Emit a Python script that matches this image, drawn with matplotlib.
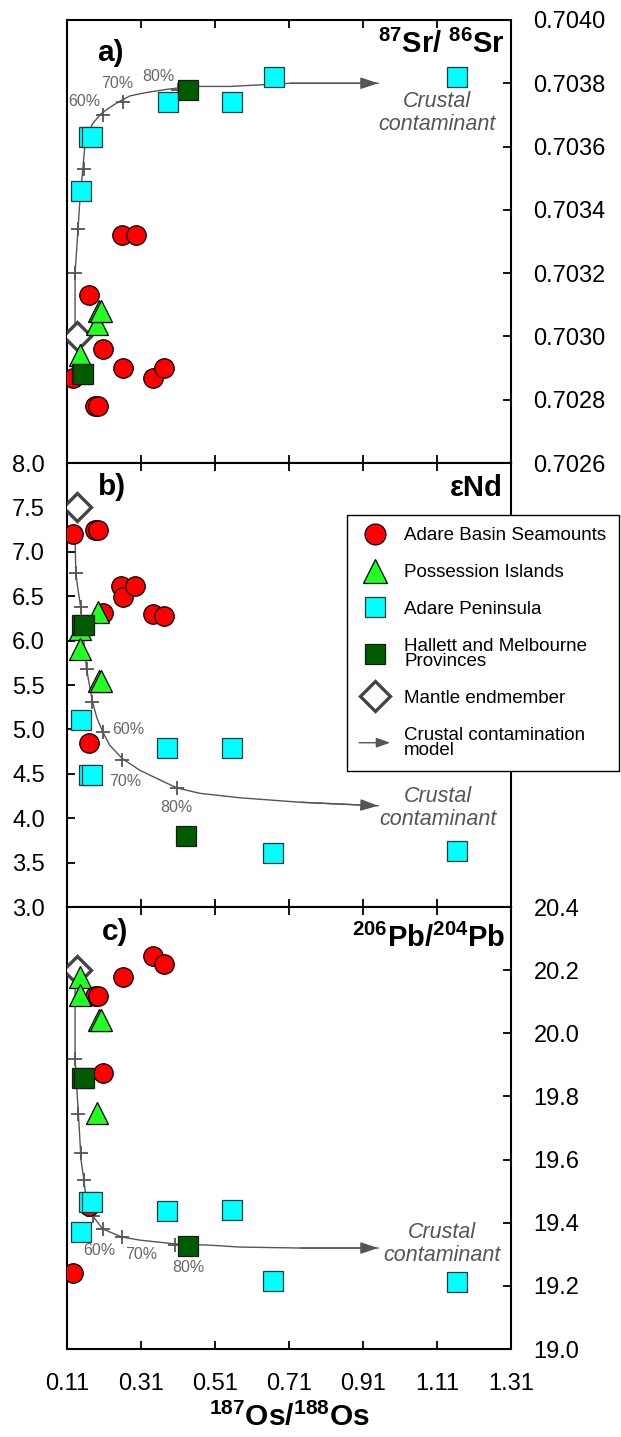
import matplotlib
matplotlib.use("Agg")
import matplotlib.pyplot as plt
import matplotlib.patches as mpatches
from matplotlib.lines import Line2D
from matplotlib.patches import FancyArrowPatch
from matplotlib.legend_handler import HandlerPatch

plt.rcParams["font.family"] = ["Liberation Sans", "DejaVu Sans"]
plt.rcParams["mathtext.fontset"] = "custom"
plt.rcParams["mathtext.rm"] = "Liberation Sans"
plt.rcParams["mathtext.bf"] = "Liberation Sans:bold"
plt.rcParams["mathtext.it"] = "Liberation Sans:italic"

# ---------------- shared x ----------------
os_ticks = [0.11, 0.31, 0.51, 0.71, 0.91, 1.11, 1.31]
mantle_os = 0.137

# ---------------- a) 87Sr/86Sr ----------------
seamount_os_sr = [0.125, 0.169, 0.185, 0.192, 0.207, 0.258, 0.260, 0.295, 0.341, 0.371]
seamount_sr = [0.70287, 0.70313, 0.70278, 0.70278, 0.70296, 0.70332, 0.70290, 0.70332, 0.70287, 0.70290]
possession_os_sr = [0.144, 0.189, 0.196, 0.200]
possession_sr = [0.70294, 0.70304, 0.70308, 0.70308]
peninsula_os_sr = [0.147, 0.169, 0.176, 0.383, 0.556, 0.669, 1.164]
peninsula_sr = [0.70346, 0.70363, 0.70363, 0.70374, 0.70374, 0.70382, 0.70382]
hallett_os_sr = [0.149, 0.153, 0.437]
hallett_sr = [0.70288, 0.70288, 0.70378]
mantle_sr = 0.70300
model_os_sr = [0.131, 0.131, 0.139, 0.144, 0.152, 0.158, 0.177, 0.198, 0.220, 0.247,
               0.279, 0.320, 0.374, 0.442, 0.550, 0.712, 0.950]
model_sr = [0.70302, 0.70320, 0.70334, 0.70343, 0.70353, 0.70361, 0.70367, 0.70370, 0.70372,
            0.70374, 0.70376, 0.70377, 0.70378, 0.70379, 0.70379, 0.70380, 0.70380]
marks_os_sr = [0.131, 0.139, 0.155, 0.206, 0.260, 0.409]
marks_sr = [0.70320, 0.70334, 0.70353, 0.70370, 0.70374, 0.70378]
sr_ticks = [0.7026, 0.7028, 0.7030, 0.7032, 0.7034, 0.7036, 0.7038, 0.7040]

# ---------------- b) eps Nd ----------------
seamount_os_nd = [0.125, 0.169, 0.185, 0.192, 0.207, 0.255, 0.260, 0.292, 0.341, 0.371]
seamount_nd = [7.20, 4.85, 7.25, 7.25, 6.31, 6.61, 6.49, 6.61, 6.30, 6.28]
possession_os_nd = [0.144, 0.144, 0.194, 0.196, 0.200]
possession_nd = [6.13, 5.91, 6.32, 5.54, 5.54]
peninsula_os_nd = [0.147, 0.169, 0.176, 0.379, 0.556, 0.667, 1.164]
peninsula_nd = [5.11, 4.49, 4.49, 4.79, 4.79, 3.61, 3.63]
hallett_os_nd = [0.149, 0.155, 0.431]
hallett_nd = [6.18, 6.18, 3.80]
mantle_nd = 7.5
model_os_nd = [0.131, 0.133, 0.139, 0.146, 0.152, 0.162, 0.178, 0.190, 0.206, 0.225,
               0.259, 0.306, 0.361, 0.407, 0.469, 0.577, 0.739, 0.950]
model_nd = [7.13, 6.76, 6.57, 6.38, 6.12, 5.68, 5.31, 5.13, 4.97, 4.82,
            4.67, 4.54, 4.43, 4.34, 4.28, 4.23, 4.18, 4.14]
marks_os_nd = [0.133, 0.146, 0.162, 0.178, 0.206, 0.259, 0.407]
marks_nd = [6.76, 6.38, 5.68, 5.31, 4.97, 4.66, 4.34]
nd_ticks = [3.0, 3.5, 4.0, 4.5, 5.0, 5.5, 6.0, 6.5, 7.0, 7.5, 8.0]

# ---------------- c) 206Pb/204Pb ----------------
seamount_os_pb = [0.125, 0.169, 0.185, 0.192, 0.207, 0.260, 0.341, 0.371]
seamount_pb = [19.240, 19.453, 20.118, 20.118, 19.875, 20.177, 20.246, 20.220]
possession_os_pb = [0.144, 0.144, 0.189, 0.196, 0.200]
possession_pb = [20.179, 20.120, 19.747, 20.043, 20.043]
peninsula_os_pb = [0.147, 0.169, 0.176, 0.379, 0.556, 0.667, 1.164]
peninsula_pb = [19.372, 19.467, 19.467, 19.437, 19.440, 19.215, 19.213]
hallett_os_pb = [0.149, 0.155, 0.437]
hallett_pb = [19.857, 19.857, 19.326]
mantle_pb = 20.2
model_os_pb = [0.131, 0.131, 0.136, 0.140, 0.144, 0.147, 0.155, 0.161, 0.177, 0.206,
               0.257, 0.306, 0.401, 0.496, 0.577, 0.739, 0.950]
model_pb = [20.153, 19.919, 19.820, 19.744, 19.662, 19.599, 19.535, 19.472, 19.424, 19.380,
            19.355, 19.345, 19.333, 19.329, 19.323, 19.320, 19.320]
marks_os_pb = [0.131, 0.140, 0.146, 0.155, 0.179, 0.206, 0.257, 0.401]
marks_pb = [19.918, 19.744, 19.622, 19.535, 19.421, 19.380, 19.354, 19.329]
pb_ticks = [19.0, 19.2, 19.4, 19.6, 19.8, 20.0, 20.2, 20.4]

pct_labels = ["60%", "70%", "80%"]

# ---------------- styles ----------------
RED, LIME, CYAN, DKGREEN = "#FF0000", "#22FF22", "#00FFFF", "#005C00"
GREY = "#555555"
TICK_FS = 17
TITLE_FS = 21

seamount_style = dict(ls="none", marker="o", ms=14, mfc=RED, mec="black", mew=0.9)
possession_style = dict(ls="none", marker="^", ms=15.5, mfc=LIME, mec="black", mew=0.9)
peninsula_style = dict(ls="none", marker="s", ms=13.8, mfc=CYAN, mec="#2a3a3a", mew=0.9)
hallett_style = dict(ls="none", marker="s", ms=13.8, mfc=DKGREEN, mec="#1a1a1a", mew=0.9)
mantle_style = dict(ls="none", marker="D", ms=14, mfc="white", mec="#444444", mew=2.4)

fig = plt.figure(figsize=(6.21, 14.37), dpi=100)
left, width = 0.1084, 0.715
ax_a = fig.add_axes([left, 0.6778, width, 0.3083])
ax_b = fig.add_axes([left, 0.3688, width, 0.3090])
ax_c = fig.add_axes([left, 0.0612, width, 0.3076])


def draw_panel(ax, groups, mantle_y, model_x, model_y, mark_x, mark_y, pct_offsets,
               crust_xy):
    # mixing model line with arrow at its end
    ax.plot(model_x, model_y, color=GREY, lw=1.0, zorder=2)
    ax.annotate("", xy=(model_x[-1], model_y[-1]), xytext=(model_x[-2], model_y[-2]),
                arrowprops=dict(arrowstyle="-|>,head_length=0.6,head_width=0.2",
                                color=GREY, lw=1.0, mutation_scale=18,
                                shrinkA=0, shrinkB=0), zorder=2)
    ax.plot(mark_x, mark_y, ls="none", marker="+", ms=10, mew=1.3, color=GREY, zorder=2.2)
    for lab, (dx, dy), x, y in zip(pct_labels, pct_offsets, mark_x[-3:], mark_y[-3:]):
        ax.annotate(lab, xy=(x, y), xytext=(dx, dy), textcoords="offset points",
                    ha="center", va="center", fontsize=11.5, color="#666666", zorder=3)
    ax.text(crust_xy[0], crust_xy[1], "Crustal\ncontaminant", ha="center", va="center",
            fontsize=15.5, style="italic", color=GREY, linespacing=1.15, zorder=3)
    # samples
    (sx, sy), (px, py), (ax_, ay), (hx, hy) = groups
    ax.plot(sx, sy, zorder=4, **seamount_style)
    ax.plot([mantle_os], [mantle_y], zorder=4.2, **mantle_style)
    ax.plot(px, py, zorder=4.4, **possession_style)
    ax.plot(ax_, ay, zorder=4.6, **peninsula_style)
    ax.plot(hx, hy, zorder=4.8, **hallett_style)


draw_panel(ax_a,
           [(seamount_os_sr, seamount_sr), (possession_os_sr, possession_sr),
            (peninsula_os_sr, peninsula_sr), (hallett_os_sr, hallett_sr)],
           mantle_sr, model_os_sr, model_sr, marks_os_sr, marks_sr,
           [(-13.5, 9.6), (-4.1, 13.2), (-14.4, 9.4)], (1.109, 0.703706))
draw_panel(ax_b,
           [(seamount_os_nd, seamount_nd), (possession_os_nd, possession_nd),
            (peninsula_os_nd, peninsula_nd), (hallett_os_nd, hallett_nd)],
           mantle_nd, model_os_nd, model_nd, marks_os_nd, marks_nd,
           [(18.0, 1.7), (1.9, -15.6), (-0.4, -13.7)], (1.112, 4.115))
draw_panel(ax_c,
           [(seamount_os_pb, seamount_pb), (possession_os_pb, possession_pb),
            (peninsula_os_pb, peninsula_pb), (hallett_os_pb, hallett_pb)],
           mantle_pb, model_os_pb, model_pb, marks_os_pb, marks_pb,
           [(-2.4, -15.1), (13.9, -12.7), (9.6, -16.1)], (1.122, 19.333))

# ---------------- axes formatting ----------------
for ax in (ax_a, ax_b, ax_c):
    ax.set_xlim(os_ticks[0], os_ticks[-1])
    ax.set_xticks(os_ticks)
    for sp in ax.spines.values():
        sp.set_linewidth(1.5)
    ax.tick_params(axis="x", which="both", direction="in", top=True, bottom=True,
                   length=6, width=1.3, labelbottom=False, labelsize=TICK_FS)

ax_c.tick_params(axis="x", labelbottom=True, pad=17)
ax_c.set_xticklabels([f"{t:.2f}" for t in os_ticks])

ax_a.set_ylim(sr_ticks[0], sr_ticks[-1])
ax_a.set_yticks(sr_ticks)
ax_a.set_yticklabels([f"{t:.4f}" for t in sr_ticks])
ax_a.tick_params(axis="y", direction="in", left=False, right=True, labelleft=False,
                 labelright=True, length=6, width=1.3, labelsize=TICK_FS, pad=16)

ax_b.set_ylim(nd_ticks[0], nd_ticks[-1])
ax_b.set_yticks(nd_ticks)
ax_b.set_yticklabels([f"{t:.1f}" for t in nd_ticks])
ax_b.tick_params(axis="y", direction="in", left=True, right=False, labelleft=True,
                 labelright=False, length=6, width=1.3, labelsize=TICK_FS, pad=16)

ax_c.set_ylim(pb_ticks[0], pb_ticks[-1])
ax_c.set_yticks(pb_ticks)
ax_c.set_yticklabels([f"{t:.1f}" for t in pb_ticks])
ax_c.tick_params(axis="y", direction="in", left=False, right=True, labelleft=False,
                 labelright=True, length=6, width=1.3, labelsize=TICK_FS, pad=16)

ax_c.set_xlabel(r"$\mathbf{^{187}Os/^{188}Os}$", fontsize=21.5, labelpad=6)

# panel letters and isotope titles
ax_a.text(0.067, 0.907, "a)", transform=ax_a.transAxes, fontsize=21.5, fontweight="bold",
          va="baseline", ha="left")
ax_b.text(0.069, 0.928, "b)", transform=ax_b.transAxes, fontsize=21.5, fontweight="bold",
          va="baseline", ha="left")
ax_c.text(0.078, 0.925, "c)", transform=ax_c.transAxes, fontsize=21.5, fontweight="bold",
          va="baseline", ha="left")
ax_a.text(0.986, 0.925, r"$\mathbf{^{87}Sr/\ ^{86}Sr}$", transform=ax_a.transAxes,
          fontsize=TITLE_FS, va="baseline", ha="right")
ax_b.text(0.981, 0.926, "εNd", transform=ax_b.transAxes, fontsize=TITLE_FS,
          fontweight="bold", va="baseline", ha="right")
ax_c.text(0.986, 0.909, r"$\mathbf{^{206}Pb/^{204}Pb}$", transform=ax_c.transAxes,
          fontsize=TITLE_FS, va="baseline", ha="right")


# ---------------- legend ----------------
class ArrowHandler(HandlerPatch):
    def create_artists(self, legend, orig_handle, xdescent, ydescent, width, height,
                       fontsize, trans):
        y = height / 2 - ydescent
        arrow = FancyArrowPatch((-xdescent, y), (width - xdescent, y),
                                arrowstyle="-|>,head_length=0.7,head_width=0.25",
                                mutation_scale=12, color=GREY, lw=1.0,
                                shrinkA=0, shrinkB=0, transform=trans)
        return [arrow]


model_handle = mpatches.Patch(color=GREY)
handles = [
    Line2D([], [], **{**seamount_style, "ms": 15}),
    Line2D([], [], **{**possession_style, "ms": 17}),
    Line2D([], [], **{**peninsula_style, "ms": 15}),
    Line2D([], [], **{**hallett_style, "ms": 15}),
    Line2D([], [], **{**mantle_style, "ms": 15.5}),
    model_handle,
]
labels = ["Adare Basin Seamounts", "Possession Islands", "Adare Peninsula",
          "Hallett and Melbourne\nProvinces", "Mantle endmember",
          "Crustal contamination\nmodel"]
leg = ax_b.legend(handles, labels, loc="upper left",
                  bbox_to_anchor=(347 / 621, 1 - 515 / 1437),
                  bbox_transform=fig.transFigure, borderaxespad=0,
                  fontsize=13.5, frameon=True, fancybox=False, framealpha=1,
                  edgecolor="black", borderpad=0.65, handlelength=1.65,
                  handletextpad=0.75, labelspacing=1.05,
                  handler_map={model_handle: ArrowHandler()})
leg.get_frame().set_linewidth(1.0)
leg.set_zorder(10)
for t in leg.get_texts():
    t.set_linespacing(0.88)

fig.savefig("out.png", dpi=100)
